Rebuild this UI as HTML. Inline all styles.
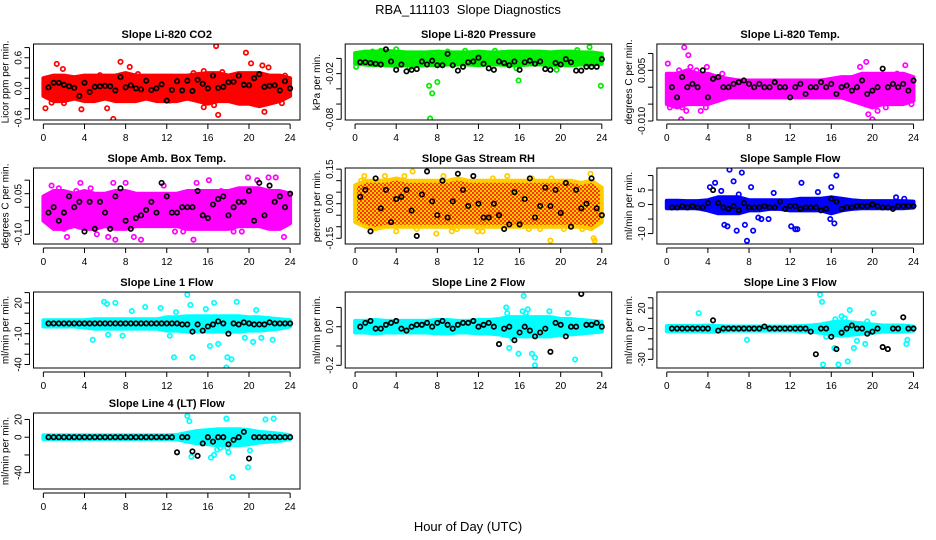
<!DOCTYPE html>
<html><head><meta charset="utf-8">
<style>
body{margin:0;background:#fff;}
svg{display:block;font-family:"Liberation Sans",Arial,sans-serif;}
.tt{font-weight:bold;font-size:11px;}
.tk{font-size:10px;}
</style></head>
<body>
<svg id="chart" width="936" height="540" viewBox="0 0 936 540" xmlns="http://www.w3.org/2000/svg">
<defs>
<pattern id="rhpat" width="4" height="4" patternUnits="userSpaceOnUse"><rect width="4" height="4" fill="#ffcc00"/><rect x="0" y="0" width="2" height="2" fill="#ff3300"/><rect x="2" y="2" width="2" height="2" fill="#ff3300"/></pattern>
</defs>
<text x="468" y="14" text-anchor="middle" font-size="13" xml:space="preserve">RBA_111103  Slope Diagnostics</text>
<text x="468" y="531" text-anchor="middle" font-size="13">Hour of Day (UTC)</text>
</svg>
<script>
const hours = [0,1,2,3,4,5,6,7,8,9,10,11,12,13,14,15,16,17,18,19,20,21,22,23,24];
const xTicks = [0,4,8,12,16,20,24];
const titles = ["Slope Li-820 CO2","Slope Li-820 Pressure","Slope Li-820 Temp.","Slope Amb. Box Temp.","Slope Gas Stream RH","Slope Sample Flow","Slope Line 1 Flow","Slope Line 2 Flow","Slope Line 3 Flow","Slope Line 4 (LT) Flow"];
const yTitles = ["Licor ppm per min.","kPa per min.","degrees C per min.","degrees C per min.","percent per min.","ml/min per min.","ml/min per min.","ml/min per min.","ml/min per min.","ml/min per min."];
const colors = ["#ff0000","#00ee00","#ff00ff","#ff00ff","#ff9900","#0000ff","#00ffff","#00ffff","#00ffff","#00ffff"];
const yLims = [[-0.62,0.87],[-0.081,0.019],[-0.0097,0.0128],[-0.136,0.145],[-0.175,0.155],[-13.6,12.6],[-43.4,30.6],[-0.214,0.18],[-38.4,35.6],[-58.4,27.3]];
const yTicks = [[-0.6,-0.4,-0.2,0,0.2,0.4,0.6,0.8],[-0.08,-0.06,-0.04,-0.02,0],[-0.01,-0.005,0,0.005,0.01],[-0.1,-0.05,0,0.05,0.1],[-0.15,-0.1,-0.05,0,0.05,0.1,0.15],[-10,-5,0,5,10],[-40,-30,-20,-10,0,10,20,30],[-0.2,-0.1,0,0.1],[-30,-20,-10,0,10,20,30],[-40,-20,0,20]];
const yLabelVals = [[-0.6,0,0.6],[-0.08,-0.02],[-0.01,0.005],[-0.1,0.05],[-0.15,0,0.15],[-10,0,5],[-40,-10,20],[-0.2,0],[-30,0,20],[-40,0,20]];
const yLabelText = [["-0.6","0.0","0.6"],["-0.08","-0.02"],["-0.010","0.005"],["-0.10","0.05"],["-0.15","0.00","0.15"],["-10","0","5"],["-40","-10","20"],["-0.2","0.0"],["-30","0","20"],["-40","0","20"]];
const bandHi = [
[0.2,0.25,0.25,0.22,0.25,0.25,0.25,0.25,0.3,0.25,0.25,0.25,0.25,0.25,0.25,0.28,0.3,0.3,0.25,0.3,0.3,0.3,0.25,0.25,0.2],
[0.007,0.009,0.009,0.01,0.009,0.008,0.008,0.008,0.009,0.008,0.008,0.008,0.009,0.008,0.008,0.009,0.009,0.009,0.009,0.008,0.009,0.009,0.008,0.008,0.006],
[0.004,0.004,0.005,0.004,0.004,0.003,0.0025,0.002,0.002,0.002,0.002,0.002,0.002,0.002,0.002,0.002,0.0025,0.003,0.003,0.004,0.004,0.004,0.004,0.004,0.003],
[0.04,0.06,0.06,0.05,0.06,0.05,0.05,0.06,0.06,0.05,0.05,0.05,0.05,0.05,0.06,0.06,0.06,0.06,0.06,0.07,0.07,0.07,0.06,0.06,0.05],
[0.08,0.1,0.1,0.1,0.11,0.1,0.1,0.1,0.1,0.1,0.11,0.1,0.1,0.1,0.1,0.1,0.1,0.1,0.1,0.1,0.1,0.1,0.09,0.1,0.07],
[1.3,1.3,1.2,1.2,1.5,2.5,2.5,2.5,1.5,1.5,1.5,1.5,1.5,2,2,2,2.5,2,1.5,1.2,1.2,1.2,1.2,1.2,1],
[3,3,3,3,3,4,4,4,4,4,4,4,6,6,7,7,7,7,7,7,6,6,5,4,3],
[0.03,0.03,0.035,0.03,0.03,0.03,0.03,0.03,0.035,0.035,0.03,0.03,0.035,0.035,0.04,0.05,0.05,0.05,0.05,0.05,0.04,0.04,0.035,0.03,0.025],
[2.5,2.5,2.5,2.5,3,2.5,2,2,2,2,2,2,2,2.5,3,4,6,7,6,5,4,3,3,3,2],
[2,2,2,2,2,2,2,2,2,2,2,2,2,2.5,5,7,8,9,9,9,8,6,5,4,2]];
const bandLo = [
[-0.15,-0.25,-0.25,-0.2,-0.25,-0.25,-0.2,-0.25,-0.25,-0.25,-0.2,-0.25,-0.25,-0.25,-0.2,-0.25,-0.3,-0.25,-0.25,-0.3,-0.3,-0.35,-0.3,-0.25,-0.15],
[-0.007,-0.008,-0.009,-0.009,-0.01,-0.009,-0.009,-0.009,-0.009,-0.008,-0.008,-0.008,-0.009,-0.008,-0.008,-0.009,-0.009,-0.008,-0.008,-0.009,-0.009,-0.009,-0.008,-0.008,-0.007],
[-0.005,-0.006,-0.005,-0.005,-0.005,-0.004,-0.003,-0.003,-0.003,-0.003,-0.003,-0.003,-0.003,-0.003,-0.003,-0.003,-0.003,-0.003,-0.004,-0.005,-0.006,-0.005,-0.005,-0.005,-0.004],
[-0.05,-0.08,-0.08,-0.07,-0.08,-0.08,-0.07,-0.08,-0.08,-0.07,-0.07,-0.07,-0.07,-0.07,-0.08,-0.08,-0.08,-0.08,-0.08,-0.07,-0.07,-0.07,-0.08,-0.08,-0.06],
[-0.08,-0.1,-0.11,-0.1,-0.1,-0.1,-0.1,-0.1,-0.1,-0.1,-0.1,-0.1,-0.1,-0.1,-0.1,-0.1,-0.1,-0.1,-0.1,-0.1,-0.1,-0.1,-0.1,-0.11,-0.08],
[-1.3,-1.3,-1.3,-1.3,-2,-3,-3,-3,-2,-2,-1.5,-1.5,-2,-2,-2,-2,-3,-2,-1.5,-1.3,-1.3,-1.3,-1.3,-1.3,-1],
[-3,-3,-3,-3,-4,-5,-5,-5,-5,-5,-5,-5,-7,-7,-8,-8,-8,-8,-8,-8,-7,-7,-6,-5,-3],
[-0.03,-0.03,-0.035,-0.03,-0.03,-0.03,-0.03,-0.03,-0.035,-0.035,-0.03,-0.03,-0.035,-0.035,-0.04,-0.05,-0.05,-0.05,-0.05,-0.05,-0.04,-0.04,-0.035,-0.03,-0.025],
[-2.5,-2.5,-2.5,-2.5,-3,-3,-2,-2,-2,-2,-2,-2,-2,-2.5,-3,-4,-6,-7,-6,-5,-4,-3,-3,-3,-2],
[-2,-2,-2,-2,-2,-2,-2,-2,-2,-2,-2,-2,-2,-2.5,-5,-7,-8,-9,-9,-9,-8,-6,-5,-4,-2]];
const outX = [
[0.2,1.3,1.9,3.7,6.2,6.8,7.5,8.4,15.6,15.6,16.6,16.8,17.0,17.4,19.7,20.2,21.3,21.5,21.9,23.2,23.5,2.0,0.8,5.5,12.3,19.5,9.2,14.6],
[7.2,7.5,8.0,7.3,15.9,23.9,22.8,4.0,2.5,21.6,15.7,19.6,0.1,1.7,10.7,13.6,5.3,9.0],
[0.1,0.3,1.4,1.7,2.1,1.9,2.3,1.2,3.9,3.8,1.5,19.4,19.6,20.0,20.5,21.3,23.2,23.8,22.4,19.8,18.8,5.4,0.3,0.9,2.9,3.3],
[0.8,1.5,2.3,3.2,3.6,6.8,7.0,8.0,8.8,9.5,11.7,12.8,13.6,14.6,14.9,16.1,17.3,18.5,19.3,19.9,20.8,22.6,23.4,21.9,5.2,6.3,2.0,4.6,0.3],
[0.9,4.8,5.6,2.9,8.6,9.4,11.9,12.4,14.8,17.2,18.0,19.1,20.3,22.1,22.9,23.2,23.3,19.0,16.9,4.0,6.0,0.6,9.9,13.4,7.9],
[4.2,4.7,5.3,5.6,5.9,6.5,6.8,7.0,7.3,7.6,7.8,8.2,8.4,8.9,9.2,9.9,10.4,12.1,12.5,12.7,13.1,14.7,15.9,16.0,16.3,16.5,16.5,23.1,22.3,6.1],
[4.8,5.9,6.2,7.0,6.3,7.7,9.9,11.4,12.3,12.7,12.9,14.0,14.3,14.5,16.2,16.6,17.8,17.9,18.3,18.8,19.6,20.4,20.7,21.2,22.3,8.6,15.8,17.0],
[14.7,14.8,15.0,15.3,15.5,16.3,16.7,16.4,16.6,16.8,17.2,17.5,17.5,18.9,19.6,20.1,20.7,15.9,21.4],
[14.9,15.1,15.2,16.3,16.4,16.7,17.0,17.3,17.6,17.8,18.2,18.5,19.3,19.5,20.1,23.3,23.4,3.1,7.8,15.5],
[14.0,14.2,14.4,16.3,17.8,17.9,18.4,19.9,20.1,21.6,22.4,16.6,16.9,15.8,18.0,17.2],
];
const outY = [
[-0.39,0.48,0.38,-0.41,-0.39,-0.6,0.52,0.42,0.34,-0.37,-0.33,0.83,-0.52,0.32,0.7,0.49,0.45,-0.46,0.41,-0.29,0.25,-0.29,-0.28,0.26,-0.24,-0.27,0.28,0.3],
[-0.036,-0.046,-0.031,-0.079,-0.029,-0.036,0.015,0.012,0.01,0.011,-0.013,-0.015,-0.011,0.009,0.01,0.01,-0.012,0.009],
[0.007,-0.006,-0.0095,0.0118,0.0095,-0.007,0.006,0.005,0.006,-0.006,-0.006,0.0075,-0.008,-0.0095,-0.007,-0.006,0.0065,-0.005,0.004,-0.005,0.006,0.004,0.0035,-0.005,0.005,-0.007],
[0.08,0.07,-0.11,0.06,0.09,0.09,-0.12,0.09,-0.11,-0.12,0.08,-0.09,-0.09,-0.12,0.09,0.1,0.06,-0.09,-0.09,0.11,0.1,0.11,-0.11,0.11,-0.1,-0.11,-0.08,0.07,0.04],
[0.12,0.12,0.14,0.12,0.12,-0.12,-0.12,-0.12,0.12,0.11,-0.11,0.11,-0.11,-0.11,0.13,-0.15,-0.16,-0.16,-0.11,-0.12,-0.11,0.1,-0.11,0.11,-0.13],
[6,7.5,4.7,-7,-7.5,8,-9,3.5,11,-7,-12.5,6,-9,-4.5,-5,-5,4,-7.5,-8.5,-8.5,7.5,4.3,-5,6,-6.5,10,-2,2,2.5,12],
[-16,21,19,20,-11,-12,16,15,-12,-33,11,28,18,-33,-22,20,-43,-33,-35,21,-14,-18,13,-14,-16,12,14,-20],
[0.1,0.07,-0.11,-0.06,-0.04,0.08,0.05,0.16,0.07,0.09,-0.14,-0.2,-0.16,0.08,-0.04,-0.04,0.07,-0.14,-0.17],
[33,26,-35,-19,9,-35,12,10,-32,18,-19,-12,-15,7,15,-15,-11,15,-11,-8],
[24,18,-22,-23,21,-12,-45,-34,-15,20,21,-20,-14,-5,-17,-12],
];
const blackVals = [
[0.02,0.11,0.11,0.07,0.04,0.01,-0.15,0.11,-0.07,0.03,0.04,0.05,0.04,-0.04,0.22,0.02,0.06,0.0,-0.02,0.15,-0.03,0.0,0.08,-0.24,-0.03,0.14,-0.04,0.15,-0.05,0.17,0.09,0.0,0.25,0.01,0.03,0.12,0.13,0.25,0.07,0.06,0.2,0.28,0.03,0.05,0.06,-0.04,0.14,0.0],
[-0.005,-0.005,-0.006,-0.007,-0.008,0.012,-0.004,-0.015,-0.008,-0.017,-0.015,-0.014,-0.004,-0.008,-0.003,-0.009,-0.009,0.006,-0.009,-0.016,-0.011,-0.005,-0.004,0.001,-0.007,-0.013,-0.015,-0.004,-0.006,-0.009,-0.004,-0.015,-0.005,-0.003,-0.007,-0.004,-0.014,-0.015,-0.006,-0.008,-0.001,-0.005,-0.016,-0.016,-0.011,-0.011,-0.011,-0.001],
[0.0,-0.003,0.003,0.0,0.001,0.0,0.005,-0.003,0.0025,0.003,0.0,0.0,0.001,0.0015,0.002,0.001,0.0,0.001,0.0,0.0,0.0015,0.0,0.0,-0.003,0.0,0.001,-0.002,0.0,0.0,0.0015,0.0,0.001,-0.002,0.0,0.0005,-0.001,0.0,0.002,-0.002,-0.001,0.0,0.0055,0.0,0.001,0.0,0.001,-0.001,0.002],
[-0.02,0.0,-0.05,-0.02,0.04,0.0,0.02,-0.09,0.02,-0.08,0.02,-0.02,-0.08,0.04,0.07,-0.05,-0.08,-0.04,-0.03,-0.01,0.02,-0.02,0.09,0.04,-0.02,-0.02,0.0,0.0,0.0,0.06,-0.03,-0.04,0.01,0.03,0.04,-0.03,0.0,0.02,0.02,0.06,-0.05,0.09,-0.03,0.08,0.02,0.04,0.0,0.05],
[0.03,0.06,-0.12,0.11,-0.02,0.06,-0.08,0.02,0.03,0.06,-0.03,-0.14,0.04,0.14,0.01,-0.05,0.1,-0.06,0.01,0.13,0.06,-0.01,0.12,0.0,-0.06,-0.06,0.0,-0.05,-0.11,-0.09,0.05,-0.09,0.02,0.11,-0.06,-0.01,0.07,-0.01,0.06,-0.04,0.09,-0.1,0.06,-0.02,0.0,0.11,-0.02,-0.05],
[-1,-1,-0.5,-1,-0.5,-1,-1,0.5,5,0.5,-1,-1.5,-0.5,-2,0.5,-1,-1,-1,-0.5,-1,-1,1,-1.5,-0.5,-0.5,-1.5,-1,-1,-1,-2,-1.5,2,1,-1.5,-1,-1,-0.5,-0.5,-0.5,0,-0.5,-1,-1,-1.5,-0.5,-0.5,-0.5,-0.5],
[0,0,0,0,0,0,0,0,0,0,0,0,0,0,0,0,0,0,0,0,0,0,0,0,0,0,-1,-1,-8,-1,-7,-3,-1,2,0,-10,0,-1,1,0,-1,-1,-1,1,0,0,0,0],
[0.0,0.02,0.03,-0.01,-0.01,0.01,0.02,0.03,-0.01,-0.02,0.0,0.01,0.01,0.02,0.0,0.02,0.03,0.01,-0.01,0.01,0.02,0.02,0.03,0.0,0.01,0.02,0.0,-0.09,-0.01,0.0,-0.07,-0.03,0.0,-0.02,-0.05,-0.03,-0.01,-0.13,0.02,0.01,-0.05,0.0,0.0,0.17,0.01,0.01,0.02,0.0],
[0,0,0,0,0,0,0,0,8,-2,0,0,0,0,0,0,0,0,2,0,0,0,0,0,0,0,0,-3,-25,0,0,-8,-20,-4,0,3,0,0,-5,-3,0,-18,-20,0,0,11,0,0],
[0,0,0,0,0,0,0,0,0,0,0,0,0,0,0,0,0,0,0,0,0,0,0,0,0,-17,0,0,-16,-21,-7,0,-5,0,0,-8,-3,0,6,-24,0,0,0,0,0,0,0,0]];

const NS = "http://www.w3.org/2000/svg";
const svg = document.getElementById("chart");
const rowTops = [44,168,292,413], boxH = 76, boxW = 266.5, colLeft = [33.5,345.2,656.9];
function mk(tag, attrs, parent){const e=document.createElementNS(NS,tag);for(const k in attrs)e.setAttribute(k,attrs[k]);(parent||svg).appendChild(e);return e;}

titles.forEach((title,p)=>{
  const L = colLeft[p%3], T = rowTops[Math.floor(p/3)];
  const [y0,y1] = yLims[p];
  const xs = h => L + (h+0.96)/25.92*boxW;
  const ys = v => T + boxH - (v-y0)/(y1-y0)*boxH;
  const g = mk("g",{});
  
  
  const cp = mk("clipPath",{id:"c"+p},g); mk("rect",{x:L,y:T,width:boxW,height:boxH},cp);
  let d = hours.map((h,i)=>(i?"L":"M")+xs(h).toFixed(1)+","+ys(bandHi[p][i]).toFixed(1)).join("");
  for(let i=hours.length-1;i>=0;i--) d += "L"+xs(hours[i]).toFixed(1)+","+ys(bandLo[p][i]).toFixed(1);
  const fill = p===4 ? "url(#rhpat)" : colors[p];
  const band = mk("path",{d:d+"Z",fill:fill,stroke:p===4?"#ffcc00":colors[p],"stroke-width":4,"stroke-linejoin":"round","clip-path":"url(#c"+p+")"},g);
  
  
  outX[p].forEach((h,i)=>{
    const c = mk("circle",{cx:xs(h),cy:ys(outY[p][i]),r:2.2,fill:"none",stroke:p===4?"#ffcc00":colors[p],"stroke-width":1.7,"clip-path":"url(#c"+p+")"},g);
    
    
  });
  blackVals[p].forEach((v,i)=>{
    const c = mk("circle",{cx:xs(0.5*(i+1)),cy:ys(v),r:2.2,fill:"none",stroke:"#000","stroke-width":1.7,"clip-path":"url(#c"+p+")"},g);
    
    
  });
  const box = mk("rect",{x:L,y:T,width:boxW,height:boxH,fill:"none",stroke:"#000","stroke-width":1},g);
  
  
  mk("line",{x1:xs(0),x2:xs(24),y1:T+boxH+4,y2:T+boxH+4,stroke:"#000"},g);
  xTicks.forEach(h=>{
    mk("line",{x1:xs(h),x2:xs(h),y1:T+boxH+4,y2:T+boxH+9,stroke:"#000"},g);
    const t = mk("text",{x:xs(h),y:T+boxH+21,"text-anchor":"middle",class:"tk"},g); t.textContent=h;
    
    
  });
  const yt = yTicks[p];
  mk("line",{x1:L-4,x2:L-4,y1:ys(yt[0]),y2:ys(yt[yt.length-1]),stroke:"#000"},g);
  yt.forEach(v=>mk("line",{x1:L-9,x2:L-4,y1:ys(v),y2:ys(v),stroke:"#000"},g));
  yLabelVals[p].forEach((v,i)=>{
    const t = mk("text",{transform:"translate("+(L-12)+","+ys(v)+") rotate(-90)","text-anchor":"middle",class:"tk"},g);
    t.textContent = yLabelText[p][i];
    
    
  });
  const yt2 = mk("text",{transform:"translate("+(L-25)+","+(T+boxH/2)+") rotate(-90)","text-anchor":"middle",class:"tk"},g);
  yt2.textContent = yTitles[p];
  
  
  const tt = mk("text",{x:L+boxW/2,y:T-6,"text-anchor":"middle",class:"tt"},g);
  tt.textContent = title;
  
  
});
</script>
</body></html>
